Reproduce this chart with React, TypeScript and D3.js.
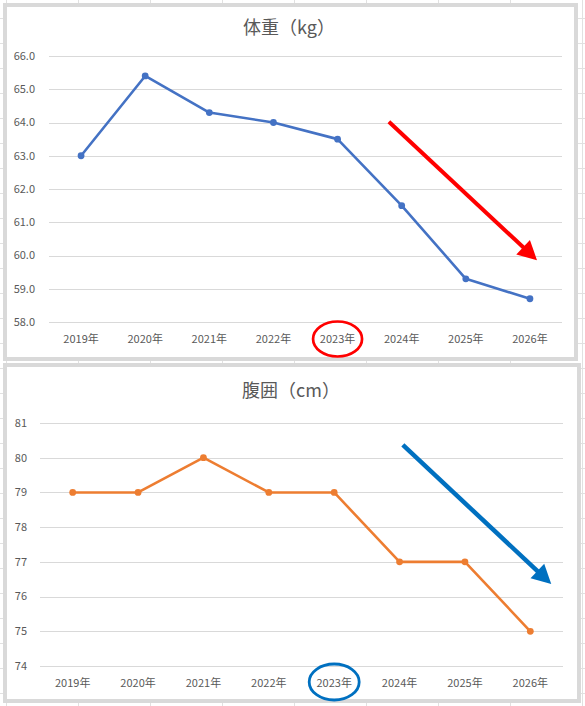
import React from 'react';
import * as d3 from 'd3';

const years = ['2019年', '2020年', '2021年', '2022年', '2023年', '2024年', '2025年', '2026年'];
const weightValues = [63.0, 65.4, 64.3, 64.0, 63.5, 61.5, 59.3, 58.7];
const waistValues = [79, 79, 80, 79, 79, 77, 77, 75];
const weightTicks = [58, 59, 60, 61, 62, 63, 64, 65, 66];
const waistTicks = [74, 75, 76, 77, 78, 79, 80, 81];
const weightTitle = '体重（kg）';
const waistTitle = '腹囲（cm）';
// annotation arrows in data space: [category index (fractional), value]
const weightArrow: [number, number][] = [[4.8, 64.02], [7.11, 59.86]];
const waistArrow: [number, number][] = [[5.05, 80.37], [7.32, 76.36]];
const highlightYear = '2023年';

const FONT = '"Noto Sans CJK JP", "Noto Sans", sans-serif';
const TEXT = '#595959';
const W = 585;
const H = 706;

type ChartProps = {
  box: { x0: number; y0: number; x1: number; y1: number };
  plot: { left: number; right: number; top: number; bottom: number };
  domain: [number, number];
  ticks: number[];
  fmt: (v: number) => string;
  values: number[];
  color: string;
  title: string;
  titleX: number;
  titleY: number;
  labelRight: number;
  xLabelY: number;
  arrow: [number, number][];
  accent: string;
  arrowWidth: number;
  ellipse: { rx: number; ry: number; dy: number; sw: number };
};

function LineChart(p: ChartProps) {
  const x = d3.scaleBand<string>().domain(years).range([p.plot.left, p.plot.right]).padding(0);
  const cx = (d: string) => (x(d) ?? 0) + x.bandwidth() / 2;
  const xi = d3
    .scaleLinear()
    .domain([0, years.length - 1])
    .range([cx(years[0]), cx(years[years.length - 1])]);
  const y = d3.scaleLinear().domain(p.domain).range([p.plot.bottom, p.plot.top]);
  const line = d3
    .line<number>()
    .x((_, i) => cx(years[i]))
    .y((v) => y(v));

  const [a0, a1] = p.arrow;
  const sx = xi(a0[0]);
  const sy = y(a0[1]);
  const tx = xi(a1[0]);
  const ty = y(a1[1]);
  const len = Math.hypot(tx - sx, ty - sy);
  const ux = (tx - sx) / len;
  const uy = (ty - sy) / len;
  const headL = 19;
  const headW = 10;
  const bx = tx - ux * headL;
  const by = ty - uy * headL;
  const nx = -uy;
  const ny = ux;
  const head = `${tx},${ty} ${bx + nx * headW},${by + ny * headW} ${bx - nx * headW},${by - ny * headW}`;

  return (
    <g>
      <rect
        x={p.box.x0 + 2}
        y={p.box.y0 + 2}
        width={p.box.x1 - p.box.x0 - 4}
        height={p.box.y1 - p.box.y0 - 4}
        fill="#ffffff"
        stroke="#d9d9d9"
        strokeWidth={4}
      />
      <text
        x={p.titleX}
        y={p.titleY}
        textAnchor="middle"
        fontFamily={FONT}
        fontSize={18}
        fill={TEXT}
      >
        {p.title}
      </text>
      {p.ticks.map((t) => (
        <g key={t}>
          <line
            x1={p.plot.left}
            x2={p.plot.right}
            y1={Math.round(y(t)) + 0.5}
            y2={Math.round(y(t)) + 0.5}
            stroke="#d9d9d9"
            strokeWidth={1}
          />
          <text
            x={p.labelRight}
            y={y(t)}
            dy="0.35em"
            textAnchor="end"
            fontFamily={FONT}
            fontSize={11}
            fill={TEXT}
          >
            {p.fmt(t)}
          </text>
        </g>
      ))}
      {years.map((yr) => (
        <text
          key={yr}
          x={cx(yr)}
          y={p.xLabelY}
          dy="0.35em"
          textAnchor="middle"
          fontFamily={FONT}
          fontSize={11}
          fill={TEXT}
        >
          {yr}
        </text>
      ))}
      <path
        d={line(p.values) ?? ''}
        fill="none"
        stroke={p.color}
        strokeWidth={2.6}
        strokeLinejoin="round"
        strokeLinecap="round"
      />
      {p.values.map((v, i) => (
        <circle key={i} cx={cx(years[i])} cy={y(v)} r={3.4} fill={p.color} />
      ))}
      <line
        x1={sx}
        y1={sy}
        x2={bx + ux * 2}
        y2={by + uy * 2}
        stroke={p.accent}
        strokeWidth={p.arrowWidth}
      />
      <polygon points={head} fill={p.accent} />
      <ellipse
        cx={cx(highlightYear)}
        cy={p.xLabelY + p.ellipse.dy}
        rx={p.ellipse.rx}
        ry={p.ellipse.ry}
        fill="none"
        stroke={p.accent}
        strokeWidth={p.ellipse.sw}
      />
    </g>
  );
}

export default function App() {
  const vLines = d3.range(6, W + 1, 72);
  const hLines = d3.range(18, H + 1, 25);
  return (
    <svg
      width={W}
      height={H}
      style={{ position: 'absolute', left: 0, top: 0, background: '#ffffff' }}
    >
      {vLines.map((v) => (
        <line key={'v' + v} x1={v + 0.5} x2={v + 0.5} y1={0} y2={H} stroke="#e1e1e1" />
      ))}
      {hLines.map((v) => (
        <line key={'h' + v} x1={0} x2={W} y1={v + 0.5} y2={v + 0.5} stroke="#e1e1e1" />
      ))}
      <LineChart
        box={{ x0: 3, y0: 3, x1: 578, y1: 361 }}
        plot={{ left: 49, right: 562, top: 56, bottom: 322 }}
        domain={[58, 66]}
        ticks={weightTicks}
        fmt={d3.format('.1f')}
        values={weightValues}
        color="#4472c4"
        title={weightTitle}
        titleX={289}
        titleY={34}
        labelRight={35}
        xLabelY={339}
        arrow={weightArrow}
        accent="#ff0000"
        arrowWidth={4}
        ellipse={{ rx: 24.5, ry: 17.5, dy: 0, sw: 2.7 }}
      />
      <LineChart
        box={{ x0: 3, y0: 363, x1: 581, y1: 703 }}
        plot={{ left: 40, right: 563, top: 423, bottom: 666 }}
        domain={[74, 81]}
        ticks={waistTicks}
        fmt={d3.format('d')}
        values={waistValues}
        color="#ed7d31"
        title={waistTitle}
        titleX={291}
        titleY={397}
        labelRight={27}
        xLabelY={683}
        arrow={waistArrow}
        accent="#0070c0"
        arrowWidth={4.5}
        ellipse={{ rx: 25, ry: 18, dy: -1, sw: 2.8 }}
      />
    </svg>
  );
}
